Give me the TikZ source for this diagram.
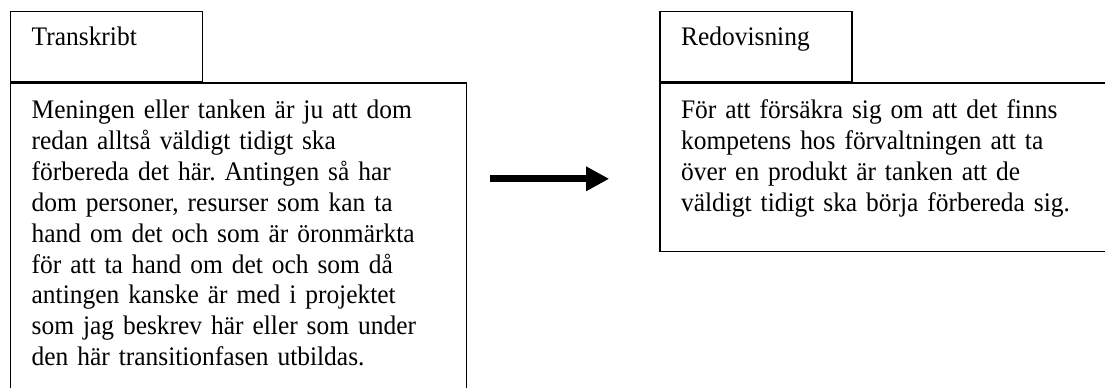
\documentclass[tikz,border=0pt]{standalone}
\usepackage{fontspec}
\setmainfont{Liberation Serif}[FakeStretch=0.95]
\usepackage{tikz}
\usetikzlibrary{positioning, arrows.meta}
\frenchspacing

\begin{document}
\begin{tikzpicture}[
  font=\fontsize{12pt}{13.8pt}\selectfont,
  tab/.style={draw, line width=0.6pt, anchor=north west, align=left,
    text width=67.2pt, inner xsep=9.4pt, inner ysep=0pt,
    text height=15.4pt, text depth=16.1pt},
  body/.style={draw, line width=0.6pt, anchor=north west, align=left,
    text width=185.5pt, inner xsep=9.4pt, inner ysep=0pt,
    text height=16.1pt},
  arrow/.style={-{Triangle[length=10.3pt, width=10.3pt]}, line width=3.1pt},
]
  \clip (0,0) rectangle (495pt,-173.4pt);

  \node[tab] (ltab) at (4.5pt,-4.8pt) {Transkribt};
  \node[body, text depth=127pt] (lbody) at (ltab.south west)
    {Meningen eller tanken är ju att dom\\
     redan alltså väldigt tidigt ska\\
     förbereda det här. Antingen så har\\
     dom personer, resurser som kan ta\\
     hand om det och som är öronmärkta\\
     för att ta hand om det och som då\\
     antingen kanske är med i projektet\\
     som jag beskrev här eller som under\\
     den här transitionfasen utbildas.};

  \node[tab, anchor=west, right=204.3pt of ltab] (rtab) {Redovisning};
  \node[body, text depth=59.5pt] (rbody) at (rtab.south west)
    {För att försäkra sig om att det finns\\
     kompetens hos förvaltningen att ta\\
     över en produkt är tanken att de\\
     väldigt tidigt ska börja förbereda sig.};

  \coordinate (from) at (219.5pt,-80.1pt);
  \coordinate (to)   at (272.9pt,-80.1pt);
  \draw[arrow] (from) -- (to);
\end{tikzpicture}
\end{document}
